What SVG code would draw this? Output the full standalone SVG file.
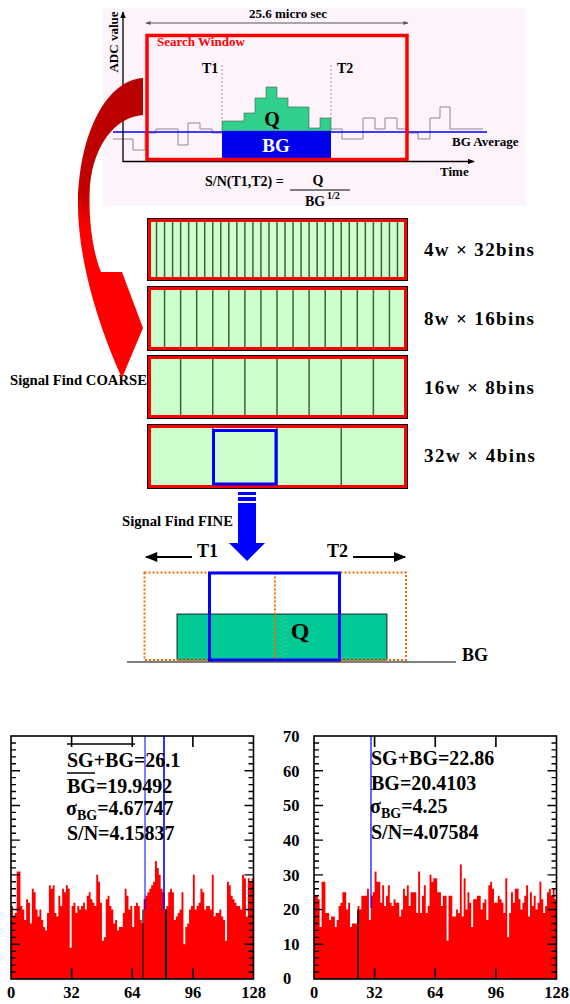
<svg xmlns="http://www.w3.org/2000/svg" width="570" height="1004" viewBox="0 0 570 1004">
<style>
text { font-family: "Liberation Serif", "Times New Roman", serif; font-weight: bold; fill: #000; }
.t13 { font-size: 13px; }
.boxo { fill: none; stroke: #000; stroke-width: 1; }
.box { fill: #ccffcc; stroke: #ff0000; stroke-width: 3; }
.div { stroke: #3f5f3f; stroke-width: 1.5; fill: none; }
.lbl { font-size: 19px; }
.stat { font-size: 20px; }
.ax { font-size: 16.5px; }
.hist { fill: #ff0000; }
.wave { fill: none; stroke: #8a8a8a; stroke-width: 1; }
.tdot { stroke: #9a9a9a; stroke-width: 1; stroke-dasharray: 2 2; }
</style>
<defs>
<marker id="ahBlack" viewBox="0 0 10 8" refX="9" refY="4" markerWidth="7" markerHeight="5.6" markerUnits="userSpaceOnUse" orient="auto-start-reverse"><path d="M0,0L10,4L0,8z" fill="#000"/></marker>
<marker id="ahGray" viewBox="0 0 10 8" refX="9" refY="4" markerWidth="6" markerHeight="4" markerUnits="userSpaceOnUse" orient="auto-start-reverse"><path d="M0,0L10,4L0,8z" fill="#555"/></marker>
<marker id="ahBig" viewBox="0 0 10 8" refX="9" refY="4" markerWidth="13" markerHeight="10" markerUnits="userSpaceOnUse" orient="auto"><path d="M0,0L10,4L0,8z" fill="#000"/></marker>
<linearGradient id="redGrad" gradientUnits="userSpaceOnUse" x1="0" y1="78" x2="0" y2="380">
<stop offset="0" stop-color="#b80000"/>
<stop offset="0.38" stop-color="#c40000"/>
<stop offset="0.5" stop-color="#ff0000"/>
<stop offset="1" stop-color="#ff0000"/>
</linearGradient>
<g id="yticks" transform="scale(1,-3.4714)">
<path fill="none" stroke="#000" stroke-width="1.4" vector-effect="non-scaling-stroke" d="M0,2h5M0,4h5M0,6h5M0,8h5M0,12h5M0,14h5M0,16h5M0,18h5M0,22h5M0,24h5M0,26h5M0,28h5M0,32h5M0,34h5M0,36h5M0,38h5M0,42h5M0,44h5M0,46h5M0,48h5M0,52h5M0,54h5M0,56h5M0,58h5M0,62h5M0,64h5M0,66h5M0,68h5M0,10h9M0,20h9M0,30h9M0,40h9M0,50h9M0,60h9"/>
</g>
<g id="frame">
<rect x="0" y="-243" width="242.5" height="243" fill="none" stroke="#000" stroke-width="1.6"/>
<path d="M60.6,-243v11M121.25,-243v11M181.9,-243v11M60.6,0v-11M121.25,0v-11M181.9,0v-11" stroke="#000" stroke-width="1.6" fill="none"/>
<use href="#yticks"/>
<use href="#yticks" transform="translate(242.5,0) scale(-1,1)"/>
</g>
</defs>
<rect width="570" height="1004" fill="#fff"/>

<g id="search-window-plot">
<rect x="103" y="8" width="423" height="198" fill="#fdf4fb"/>
<text class="t13" x="288" y="18" text-anchor="middle">25.6 micro sec</text>
<line x1="146" y1="23" x2="408" y2="23" stroke="#555" stroke-width="1" marker-start="url(#ahGray)" marker-end="url(#ahGray)"/>
<text class="t13" transform="translate(118,42) rotate(-90)" text-anchor="middle">ADC value</text>
<line class="tdot" x1="222" y1="65" x2="222" y2="121"/>
<line class="tdot" x1="331" y1="65" x2="331" y2="118"/>
<text x="202" y="73" style="font-size:14px">T1</text>
<text x="337" y="73" style="font-size:14px">T2</text>
<polyline class="wave" points="113,139 133,139 133,150 145,150 145,133 156,133 156,129 178,129 178,145 188,145 188,123 200,123 200,129 212,129 212,133 222,133"/>
<polyline class="wave" points="331,129 342,129 342,139 363,139 363,118 375,118 375,129 385,129 385,118 397,118 397,129 408,129 408,133 418,133 418,139 430,139 430,118 440,118 440,107 450,107 450,129 483,129"/>
<polygon points="222,131 222,121 244,121 244,113 255,113 255,98 266,98 266,87 277,87 277,98 288,98 288,107 309,107 309,128 320,128 320,118 331,118 331,131" fill="#2fd08c" stroke="#555" stroke-width="0.6"/>
<text x="272" y="126" text-anchor="middle" style="font-size:20px">Q</text>
<rect x="222" y="131" width="109" height="29" fill="#0000ee"/>
<text x="276" y="152" text-anchor="middle" style="font-size:19px;fill:#fff">BG</text>
<line x1="113" y1="132" x2="487" y2="132" stroke="#0000ff" stroke-width="1.6"/>
<path d="M123,12V161.5H474" fill="none" stroke="#000" stroke-width="1.3" marker-start="url(#ahBlack)" marker-end="url(#ahBlack)"/>
<rect x="147" y="35.5" width="260" height="124" fill="none" stroke="#ff0000" stroke-width="3.5"/>
<text x="157" y="46" style="font-size:13px;fill:#ff0000">Search Window</text>
<text class="t13" x="452" y="146">BG Average</text>
<text class="t13" x="440" y="176">Time</text>
<text x="205" y="186" style="font-size:14px">S/N(T1,T2) =</text>
<text x="318" y="185" text-anchor="middle" style="font-size:14px">Q</text>
<line x1="290" y1="190" x2="350" y2="190" stroke="#000" stroke-width="1"/>
<text x="305" y="206" style="font-size:14px">BG</text>
<text x="327" y="199" style="font-size:10px">1/2</text>
</g>

<g id="bins-32">
<rect class="boxo" x="147.5" y="218.5" width="260" height="62"/>
<rect class="box" x="149.5" y="220.5" width="256" height="58"/>
<path class="div" d="M156.53,222V277M164.56,222V277M172.59,222V277M180.63,222V277M188.66,222V277M196.69,222V277M204.72,222V277M212.75,222V277M220.78,222V277M228.81,222V277M236.84,222V277M244.88,222V277M252.91,222V277M260.94,222V277M268.97,222V277M277,222V277M285.03,222V277M293.06,222V277M301.09,222V277M309.13,222V277M317.16,222V277M325.19,222V277M333.22,222V277M341.25,222V277M349.28,222V277M357.31,222V277M365.34,222V277M373.38,222V277M381.41,222V277M389.44,222V277M397.47,222V277"/>
<rect x="149.5" y="220.5" width="256" height="58" fill="none" stroke="#ff0000" stroke-width="3"/>
<text class="lbl" x="424" y="256" textLength="110" lengthAdjust="spacing">4w × 32bins</text>
</g>

<g id="bins-16">
<rect class="boxo" x="147.5" y="286.5" width="260" height="64"/>
<rect class="box" x="149.5" y="288.5" width="256" height="60"/>
<path class="div" d="M164.56,290V347M180.63,290V347M196.69,290V347M212.75,290V347M228.81,290V347M244.88,290V347M260.94,290V347M277,290V347M293.06,290V347M309.13,290V347M325.19,290V347M341.25,290V347M357.31,290V347M373.38,290V347M389.44,290V347"/>
<rect x="149.5" y="288.5" width="256" height="60" fill="none" stroke="#ff0000" stroke-width="3"/>
<text class="lbl" x="424" y="325" textLength="110" lengthAdjust="spacing">8w × 16bins</text>
</g>

<g id="bins-8">
<rect class="boxo" x="147.5" y="355.5" width="260" height="63"/>
<rect class="box" x="149.5" y="357.5" width="256" height="59"/>
<path class="div" d="M180.63,359V415M212.75,359V415M244.88,359V415M277,359V415M309.13,359V415M341.25,359V415M373.38,359V415"/>
<rect x="149.5" y="357.5" width="256" height="59" fill="none" stroke="#ff0000" stroke-width="3"/>
<text class="lbl" x="424" y="394" textLength="110" lengthAdjust="spacing">16w × 8bins</text>
</g>

<g id="bins-4">
<rect class="boxo" x="147.5" y="424.5" width="260" height="64"/>
<rect class="box" x="149.5" y="426.5" width="256" height="60"/>
<path class="div" d="M212.75,428V485M277,428V485M341.25,428V485"/>
<rect x="149.5" y="426.5" width="256" height="60" fill="none" stroke="#ff0000" stroke-width="3"/>
<rect x="213.5" y="430.5" width="62.5" height="53.5" fill="none" stroke="#0000ff" stroke-width="3"/>
<text class="lbl" x="424" y="462" textLength="111" lengthAdjust="spacing">32w × 4bins</text>
</g>

<g id="label-coarse">
<text x="10" y="385" style="font-size:14px" textLength="137" lengthAdjust="spacingAndGlyphs">Signal Find COARSE</text>
</g>

<g id="label-fine">
<text x="122" y="526" style="font-size:14px" textLength="111" lengthAdjust="spacingAndGlyphs">Signal Find FINE</text>
</g>

<g id="signal-fine">
<line x1="192" y1="557" x2="146" y2="557" stroke="#000" stroke-width="2" marker-end="url(#ahBig)"/>
<text x="197" y="557" style="font-size:18px">T1</text>
<text x="327" y="557" style="font-size:18px">T2</text>
<line x1="353" y1="557" x2="405" y2="557" stroke="#000" stroke-width="2" marker-end="url(#ahBig)"/>
<rect x="177" y="614" width="210" height="46" fill="#00c995" stroke="#000" stroke-width="0.8"/>
<path d="M144.5,572.5H406V660H144.5ZM275,572.5V660" fill="none" stroke="#ff6a00" stroke-width="2" stroke-dasharray="2 2"/>
<rect x="209.5" y="573" width="130" height="87" fill="none" stroke="#0000ff" stroke-width="3"/>
<text x="300" y="639" text-anchor="middle" style="font-size:24px">Q</text>
<line x1="127" y1="662" x2="456" y2="662" stroke="#000" stroke-width="1.2"/>
<text x="462" y="661" style="font-size:18px">BG</text>
</g>

<g id="connectors">
<path d="M143,78C108,80 80,130 78,200C77,260 100,330 122,378L143,328L122,272L101,272C92,250 88,215 90,185C94,145 115,117 143,115Z" fill="url(#redGrad)"/>
<rect x="238" y="492" width="18" height="3" fill="#0000ff"/>
<rect x="238" y="497" width="18" height="4" fill="#0000ff"/>
<path d="M238,503H256V543H265L247,561L229,543H238Z" fill="#0000ff"/>
</g>

<g id="hist-left">
<path class="hist" transform="translate(11,979) scale(1.894531,-3.4714)" d="M0,0V21H1V18H2V19H3V31H5V21H6V20H7V17H8V23H9V22H10V16H11V26H12V25H13V20H14V18H15V20H16V17H17V15H18V14H19V19H20V27H21V26H22V27H23V19H24V18H25V24H26V21H27V26H28V25H29V27H30V26H31V9H32V21H33V22H34V19H35V21H36V20H37V21H38V22H39V20H40V24H41V25H42V23H43V22H44V21H45V30H46V28H47V22H48V11H49V12H50V23H51V24H52V21H53V20H54V16H55V17H56V14H57V15H59V19H60V26H61V24H62V20H63V21H64V15H65V21H66V22H67V21H68V17H69V16H70V23H71V24H72V25H73V26H74V27H75V28H76V34H77V32H78V30H79V26H80V25H81V20H82V21H83V25H84V26H85V25H86V17H87V18H88V19H89V20H90V25H91V10H92V15H93V16H94V20H95V21H96V30H97V20H98V21H99V22H100V26H101V25H102V20H103V21H105V20H106V30H107V18H108V19H110V20H111V18H112V17H113V11H114V28H115V27H116V24H117V23H118V22H119V21H121V20H122V30H123V29H124V18H125V29H126V28H127V29H128V0Z"/>
<line x1="145" y1="736" x2="145" y2="909.6" stroke="#0000ff" stroke-width="1"/>
<line x1="164" y1="736" x2="164" y2="909.6" stroke="#0000ff" stroke-width="1.6"/>
<line x1="143" y1="909.6" x2="143" y2="979" stroke="#000" stroke-width="1.2"/>
<line x1="166" y1="909.6" x2="166" y2="979" stroke="#000" stroke-width="2"/>
<use href="#frame" transform="translate(11,979)"/>
<text class="stat" x="67" y="767">SG+BG=26.1</text>
<line x1="67" y1="744" x2="135" y2="744" stroke="#000" stroke-width="1.5"/>
<text class="stat" x="67" y="793">BG=19.9492</text>
<line x1="67" y1="773" x2="95" y2="773" stroke="#000" stroke-width="1.5"/>
<text class="stat" x="66" y="815">σ<tspan style="font-size:14px" dy="5">BG</tspan><tspan dy="-5">=4.67747</tspan></text>
<text class="stat" x="67" y="840">S/N=4.15837</text>
<text class="ax" x="11" y="998" text-anchor="middle">0</text>
<text class="ax" x="71.6" y="998" text-anchor="middle">32</text>
<text class="ax" x="132.3" y="998" text-anchor="middle">64</text>
<text class="ax" x="192.9" y="998" text-anchor="middle">96</text>
<text class="ax" x="253.5" y="998" text-anchor="middle">128</text>
</g>

<g id="hist-right">
<path class="hist" transform="translate(314,979) scale(1.894531,-3.4714)" d="M0,0V24H2V23H3V15H4V28H6V19H8V17H9V18H11V15H12V17H13V21H14V22H15V25H17V20H18V22H19V15H20V16H23V21H24V20H25V24H28V26H29V17H30V24H31V25H32V31H33V28H35V22H36V27H37V21H38V24H39V27H40V22H41V21H42V23H43V22H45V18H46V20H47V26H48V24H49V27H50V21H51V25H54V19H55V31H56V19H57V24H58V27H59V19H60V21H61V30H62V28H63V29H65V25H67V21H68V24H70V11H71V24H73V18H75V20H76V19H77V33H78V18H79V29H80V20H81V25H82V22H83V15H84V23H86V24H88V20H89V22H90V23H91V17H92V27H93V28H94V26H95V22H97V24H98V23H99V22H100V19H101V29H102V12H103V19H104V25H105V22H106V26H108V23H109V20H110V22H111V24H112V27H113V18H114V25H115V21H116V24H117V20H118V22H119V28H120V23H121V19H122V21H123V25H124V26H125V24H126V26H127V23H128V0Z"/>
<line x1="371" y1="736" x2="371" y2="908" stroke="#0000ff" stroke-width="1.2"/>
<line x1="358" y1="909.6" x2="358" y2="979" stroke="#000" stroke-width="1.5"/>
<use href="#frame" transform="translate(314,979)"/>
<text class="stat" x="371" y="765">SG+BG=22.86</text>
<text class="stat" x="371" y="790">BG=20.4103</text>
<text class="stat" x="370" y="813">σ<tspan style="font-size:14px" dy="5">BG</tspan><tspan dy="-5">=4.25</tspan></text>
<text class="stat" x="371" y="839">S/N=4.07584</text>
<text class="ax" x="283" y="742">70</text>
<text class="ax" x="283" y="777">60</text>
<text class="ax" x="283" y="811">50</text>
<text class="ax" x="283" y="846">40</text>
<text class="ax" x="283" y="881">30</text>
<text class="ax" x="283" y="915">20</text>
<text class="ax" x="283" y="950">10</text>
<text class="ax" x="283" y="984">0</text>
<text class="ax" x="314" y="998" text-anchor="middle">0</text>
<text class="ax" x="374.6" y="998" text-anchor="middle">32</text>
<text class="ax" x="435.3" y="998" text-anchor="middle">64</text>
<text class="ax" x="495.9" y="998" text-anchor="middle">96</text>
<text class="ax" x="556.5" y="998" text-anchor="middle">128</text>
</g>
</svg>
